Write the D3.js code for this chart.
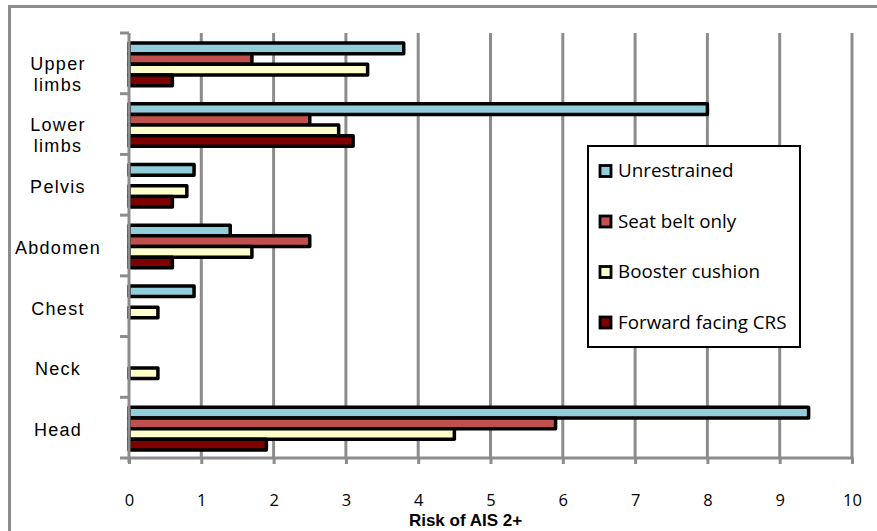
<!DOCTYPE html>
<html>
<head>
<meta charset="utf-8">
<script src="https://cdn.jsdelivr.net/npm/d3@7"></script>
<style>
  html, body { margin: 0; padding: 0; background: #fff; }
  svg { display: block; }
</style>
</head>
<body>
<svg id="chart" width="877" height="531"></svg>
<script>
// Body regions, top to bottom
const regions = ["Upper limbs", "Lower limbs", "Pelvis", "Abdomen", "Chest", "Neck", "Head"];
// Restraint types (drawn top to bottom within each region)
const seriesNames = ["Unrestrained", "Seat belt only", "Booster cushion", "Forward facing CRS"];
const seriesColors = ["#92CDDC", "#C0504D", "#FFFFCC", "#800000"];
// Risk of AIS 2+ per region, one array per restraint type
const unrestrained   = [3.8, 8.0, 0.9, 1.4, 0.9, 0, 9.4];
const seatBeltOnly   = [1.7, 2.5, 0,   2.5, 0,   0, 5.9];
const boosterCushion = [3.3, 2.9, 0.8, 1.7, 0.4, 0.4, 4.5];
const forwardCRS     = [0.6, 3.1, 0.6, 0.6, 0,   0, 1.9];
const xTicks = [0, 1, 2, 3, 4, 5, 6, 7, 8, 9, 10];
const xTitle = "Risk of AIS 2+";

const seriesValues = [unrestrained, seatBeltOnly, boosterCushion, forwardCRS];

const svg = d3.select("#chart");
const grid = "#8C8C8C";

// Outer chart frame
svg.append("rect")
  .attr("x", 9.5).attr("y", 6.5).attr("width", 900).attr("height", 560)
  .attr("fill", "#fff").attr("stroke", grid).attr("stroke-width", 3);

const plot = { left: 129, right: 852, top: 33, bottom: 458 };

const x = d3.scaleLinear().domain([0, 10]).range([plot.left, plot.right]);
const y = d3.scaleBand().domain(regions).range([plot.top, plot.bottom]);
const inner = d3.scaleBand().domain(seriesNames)
  .range([0, y.bandwidth()]).paddingOuter(0.85);

// Vertical gridlines
svg.append("g").selectAll("line")
  .data(xTicks.filter(t => t > 0))
  .join("line")
  .attr("x1", d => x(d)).attr("x2", d => x(d))
  .attr("y1", plot.top).attr("y2", plot.bottom)
  .attr("stroke", grid).attr("stroke-width", 3);

// Bars
const barData = [];
seriesNames.forEach((s, si) => {
  regions.forEach((r, ri) => {
    const v = seriesValues[si][ri];
    if (v > 0) barData.push({ series: s, si, region: r, value: v });
  });
});

svg.append("g").selectAll("rect")
  .data(barData)
  .join("rect")
  .attr("x", x(0))
  .attr("y", d => y(d.region) + inner(d.series) + 1)
  .attr("width", d => x(d.value) - x(0))
  .attr("height", inner.bandwidth())
  .attr("fill", d => seriesColors[d.si])
  .attr("stroke", "#000")
  .attr("stroke-width", 3.5)
  .attr("stroke-linejoin", "round");

// Bottom axis
const xAxis = d3.axisBottom(x).tickValues(xTicks).tickSize(6).tickPadding(30)
  .tickFormat(d3.format("d"));
const gx = svg.append("g").attr("transform", `translate(0,${plot.bottom})`).call(xAxis);
gx.select(".domain").attr("stroke", grid).attr("stroke-width", 3)
  .attr("d", `M${plot.left - 1.5},0H${plot.right + 1.5}`);
gx.selectAll(".tick line").attr("stroke", grid).attr("stroke-width", 3);
gx.selectAll(".tick text")
  .attr("font-family", "'Open Sans', sans-serif")
  .attr("font-size", 16.5).attr("fill", "#000");

// Left axis with ticks at region boundaries
const boundaries = regions.map(r => y(r)).concat([plot.bottom]);
svg.append("line")
  .attr("x1", plot.left).attr("x2", plot.left)
  .attr("y1", plot.top).attr("y2", plot.bottom + 5)
  .attr("stroke", grid).attr("stroke-width", 3);
svg.append("g").selectAll("line")
  .data(boundaries)
  .join("line")
  .attr("x1", plot.left - 9).attr("x2", plot.left)
  .attr("y1", d => d).attr("y2", d => d)
  .attr("stroke", grid).attr("stroke-width", 3);

// Region labels (two-word ones wrap onto two lines)
const labels = svg.append("g")
  .attr("font-family", "'Liberation Sans', Arial, sans-serif")
  .attr("font-size", 18)
  .attr("letter-spacing", 1.3)
  .attr("fill", "#000");
regions.forEach(r => {
  const words = r.split(" ");
  const lh = 21;
  const cy = y(r) + y.bandwidth() / 2 + (words.length > 1 ? 11 : 2);
  const t = labels.append("text").attr("text-anchor", "middle");
  words.forEach((w, i) => {
    t.append("tspan")
      .attr("x", 58)
      .attr("y", cy + (i - (words.length - 1) / 2) * lh + 6.5)
      .text(w);
  });
});

// Axis title
svg.append("text")
  .attr("x", x(5) - 25).attr("y", 526)
  .attr("text-anchor", "middle")
  .attr("font-family", "'Liberation Sans', Arial, sans-serif")
  .attr("font-weight", "bold")
  .attr("font-size", 17)
  .attr("fill", "#000")
  .text(xTitle);

// Legend
const legend = svg.append("g");
legend.append("rect")
  .attr("x", 588).attr("y", 146).attr("width", 212).attr("height", 201)
  .attr("fill", "#fff").attr("stroke", "#000").attr("stroke-width", 2);
const item = legend.selectAll("g.item")
  .data(seriesNames)
  .join("g")
  .attr("class", "item")
  .attr("transform", (d, i) => `translate(600,${170 + i * 50.5})`);
item.append("rect")
  .attr("x", 0).attr("y", -4.5).attr("width", 11).attr("height", 11)
  .attr("fill", (d, i) => seriesColors[i])
  .attr("stroke", "#000").attr("stroke-width", 2.8);
item.append("text")
  .attr("x", 18).attr("y", 7)
  .attr("font-family", "'Open Sans', sans-serif")
  .attr("font-size", 18.8)
  .attr("fill", "#000")
  .text(d => d);
</script>
</body>
</html>
